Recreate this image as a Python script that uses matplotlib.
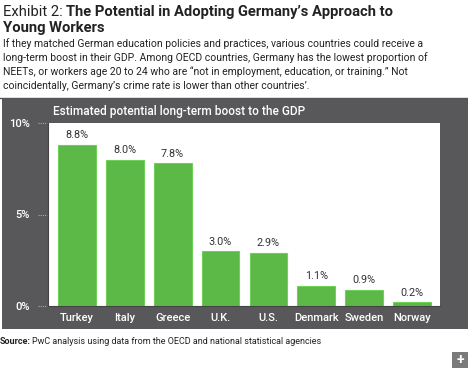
import matplotlib
matplotlib.use('Agg')
from matplotlib import pyplot as plt
from matplotlib.patches import Rectangle
import matplotlib.transforms as mtransforms

countries = ['Turkey', 'Italy', 'Greece', 'U.K.', 'U.S.', 'Denmark', 'Sweden', 'Norway']
boost = [8.8, 8.0, 7.8, 3.0, 2.9, 1.1, 0.9, 0.2]
y_ticks = [0, 5, 10]
y_tick_labels = ['0%', '5%', '10%']

W, H = 468, 368
DARK = '#58585a'
GREEN = '#5cb847'
plt.rcParams['font.family'] = ['Roboto', 'DejaVu Sans']

fig = plt.figure(figsize=(W / 100, H / 100), dpi=100)


def fx(px):
    return px / W


def fy(py):
    return 1 - py / H


# header
t = fig.text(fx(3), fy(12), 'Exhibit 2: ', fontsize=10.6, color='#222222', va='center')
fig.canvas.draw()
bb = t.get_window_extent()
fig.text(bb.x1 / W, fy(12), 'The Potential in Adopting Germany\u2019s Approach to',
         fontsize=10.6, fontweight='bold', color='#222222', va='center')
fig.text(fx(3), fy(28), 'Young Workers', fontsize=10.6, fontweight='bold',
         color='#222222', va='center')

body = ['If they matched German education policies and practices, various countries could receive a',
        'long-term boost in their GDP. Among OECD countries, Germany has the lowest proportion of',
        'NEETs, or workers age 20 to 24 who are \u201cnot in employment, education, or training.\u201d Not',
        'coincidentally, Germany\u2019s crime rate is lower than other countries\u2019.']
for i, line in enumerate(body):
    fig.text(fx(3), fy(44 + i * 14), line, fontsize=7.45, color='#222222', va='center')

# separator and panel
fig.add_artist(plt.Line2D([0, 1], [fy(98), fy(98)], color='#555555', lw=1))
fig.add_artist(Rectangle((fx(2), fy(329)), 1 - fx(2), (329 - 99) / H,
                         facecolor=DARK, edgecolor='none', zorder=-5))
fig.text(fx(53), fy(111), 'Estimated potential long-term boost to the GDP',
         fontsize=8.6, fontweight='medium', color='white', va='center')

ax = fig.add_axes([fx(48), fy(306), (440 - 48) / W, (306 - 123) / H])
ax.set_zorder(2)
ax.set_facecolor('white')
x = range(len(countries))
ax.bar(x, boost, width=0.79, color=GREEN, edgecolor='#6fd058', linewidth=0.8)
for xi, v in zip(x, boost):
    ax.text(xi, v + 0.25, f'{v:.1f}%', ha='center', va='bottom', fontsize=7.8, color='#333333')

ax.set_xlim(-0.6, len(countries) - 0.42)
ax.set_ylim(0, 10)
ax.set_xticks(list(x))
ax.set_xticklabels(countries, color='white', fontsize=8, fontweight='medium')
ax.set_yticks(y_ticks)
ax.set_yticklabels(y_tick_labels, color='white', fontsize=8, fontweight='medium')
ax.tick_params(axis='x', length=0, pad=5)
ax.tick_params(axis='y', length=0, pad=13)
for s in ax.spines.values():
    s.set_visible(False)
ax.spines['left'].set_visible(True)
ax.spines['left'].set_color('#444444')
ax.spines['bottom'].set_visible(True)
ax.spines['bottom'].set_color('#444444')

trans = mtransforms.blended_transform_factory(ax.transAxes, ax.transData)
for yt in y_ticks:
    ax.plot([-0.026, -0.003], [yt, yt], transform=trans, clip_on=False,
            color='#aaaaaa', lw=0.8, linestyle=(0, (1, 1)))

# source and plus box
s = fig.text(fx(0), fy(342), 'Source:', fontsize=6.45, fontweight='bold', color='#222222', va='center')
fig.canvas.draw()
bb = s.get_window_extent()
fig.text(bb.x1 / W + 0.003, fy(342), 'PwC analysis using data from the OECD and national statistical agencies',
         fontsize=6.45, color='#222222', va='center')
fig.add_artist(Rectangle((fx(452), 0), fx(16), 16 / H, facecolor='#7a7a7a', edgecolor='none'))
fig.text(fx(460), fy(360), '+', fontsize=10, fontweight='bold', color='white', ha='center', va='center')

fig.savefig('out.png', dpi=100)
plt.close(fig)
